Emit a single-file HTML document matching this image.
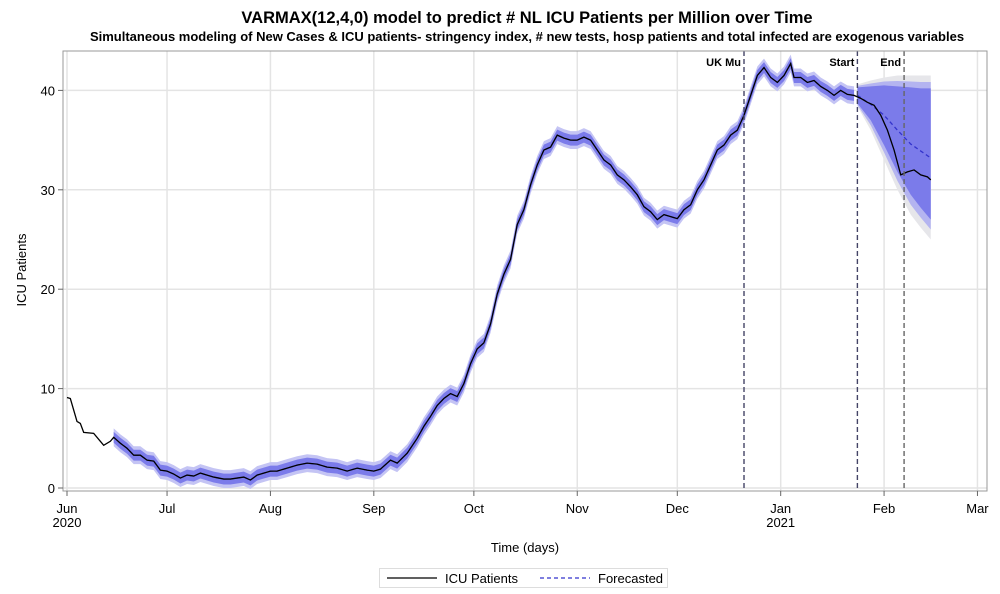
<!DOCTYPE html>
<html><head><meta charset="utf-8">
<style>
html,body{margin:0;padding:0;background:#fff;}
svg{display:block;font-family:"Liberation Sans",Arial,sans-serif;}
</style></head>
<body>
<svg id="chart" width="1000" height="594" viewBox="0 0 1000 594">
<text x="527" y="23" text-anchor="middle" font-size="16.5" font-weight="bold" fill="#000">VARMAX(12,4,0) model to predict # NL ICU Patients per Million over Time</text>
<text x="527" y="41" text-anchor="middle" font-size="13" font-weight="bold" fill="#000">Simultaneous modeling of New Cases &amp; ICU patients- stringency index, # new tests, hosp patients and total infected are exogenous variables</text>
<g id="grid"></g>
<g id="bands"></g>
<g id="lines"></g>
<g id="refs"></g>
<rect x="63" y="51" width="924" height="440" fill="none" stroke="#999" stroke-width="1"/>
<g id="axes"></g>
<text x="26" y="270" transform="rotate(-90 26 270)" text-anchor="middle" font-size="13" fill="#000">ICU Patients</text>
<text x="525" y="552" text-anchor="middle" font-size="13" fill="#000">Time (days)</text>
<g>
<rect x="379.5" y="568.5" width="288" height="19" fill="#fff" stroke="#bbb" stroke-dasharray="1,1"/>
<line x1="387" y1="578" x2="437" y2="578" stroke="#000" stroke-width="1.3"/>
<text x="445" y="583" font-size="13">ICU Patients</text>
<line x1="540" y1="578" x2="590" y2="578" stroke="#3333cc" stroke-width="1.3" stroke-dasharray="4,3"/>
<text x="598" y="583" font-size="13">Forecasted</text>
</g>
</svg>
<script>
// days since 2020-06-01
const obsDays=[0,1,3,4,5,8,10,11,13,14,
16,18,20,22,24,26,28,30,32,34,
36,38,40,42,44,47,49,51,53,55,
57,59,61,63,66,69,72,75,78,81,
84,87,90,92,94,97,99,102,105,107,
109,111,113,115,117,119,121,123,125,127,
129,131,133,135,137,139,141,143,145,147,
149,151,153,155,157,159,161,163,165,167,
169,171,173,175,177,179,181,183,185,187,
189,191,193,195,197,199,201,203,205,207,
209,211,213,215,217,218,220,222,224,226,
228,230,232,234,236,238,240,242,244,246,
248,250,252,254,256,258,259];
const obsVals=[9.1,9.0,6.7,6.5,5.6,5.5,4.7,4.3,4.7,5.1,
4.5,4.0,3.3,3.3,2.8,2.7,1.8,1.7,1.4,1.0,
1.3,1.2,1.5,1.3,1.1,0.9,0.9,1.0,1.1,0.8,
1.3,1.5,1.7,1.7,2.0,2.3,2.5,2.4,2.1,2.0,
1.7,2.0,1.8,1.7,1.9,2.8,2.5,3.5,5.0,6.2,
7.2,8.3,9.0,9.5,9.2,10.5,12.5,14.0,14.6,16.5,
19.5,21.5,23.0,26.5,28.0,30.5,32.5,34.0,34.3,35.5,
35.2,35.0,35.0,35.3,35.0,34.0,33.0,32.5,31.5,31.0,
30.3,29.5,28.3,27.8,27.0,27.5,27.3,27.1,28.0,28.5,
30.0,31.0,32.5,34.0,34.5,35.5,36.0,37.5,39.5,41.5,
42.3,41.3,40.8,41.5,42.7,41.3,41.3,40.8,41.0,40.4,
40.0,39.5,40.0,39.6,39.5,39.2,38.8,38.5,37.5,36.0,
34.0,31.5,31.8,32.0,31.5,31.3,31.0];
const fcStart=14, startDay=237;
const fcDays=[237,241,245,249,253,256,259];
const fcVals=[39.5,38.6,37.5,36.0,34.6,33.9,33.2];
const fcLo=[38.7,37.0,34.5,31.8,29.5,28.2,27.0];
const fcHi=[40.3,40.4,40.5,40.4,40.3,40.2,40.2];
const outLo=[38.4,36.0,33.0,30.0,27.5,26.2,25.0];
const outHi=[40.6,41.0,41.3,41.5,41.5,41.5,41.5];
const yTicks=[0,10,20,30,40];
const xTickDays=[0,30,61,92,122,153,183,214,245,273];
const xTickLabels=["Jun","Jul","Aug","Sep","Oct","Nov","Dec","Jan","Feb","Mar"];
const refDays=[203,237,251];
const refLabels=["UK Mu","Start","End"];

const NS="http://www.w3.org/2000/svg";
const X=d=>67+d*3.335;
const Y=v=>488-v*9.94;
function mk(tag,attrs,parent){const e=document.createElementNS(NS,tag);for(const k in attrs)e.setAttribute(k,attrs[k]);parent.appendChild(e);return e;}
const grid=document.getElementById('grid'),axes=document.getElementById('axes'),bands=document.getElementById('bands'),lines=document.getElementById('lines'),refs=document.getElementById('refs');

yTicks.forEach(v=>{
  const g=mk('line',{x1:63,x2:987,y1:Y(v),y2:Y(v),stroke:'#e4e4e4','stroke-width':1.5},grid);
  
  
  const t=mk('line',{x1:58,x2:63,y1:Y(v),y2:Y(v),stroke:'#666'},axes);
  
  
  const l=mk('text',{x:55,y:Y(v)+5,'text-anchor':'end','font-size':13},axes);
  l.textContent=v;
  
  
});
xTickDays.forEach((d,i)=>{
  const g=mk('line',{x1:X(d),x2:X(d),y1:51,y2:491,stroke:'#e4e4e4','stroke-width':1.5},grid);
  
  
  const t=mk('line',{x1:X(d),x2:X(d),y1:491,y2:496,stroke:'#666'},axes);
  
  
  const l=mk('text',{x:X(d),y:513,'text-anchor':'middle','font-size':13},axes);
  l.textContent=xTickLabels[i];
  
  
});
[[0,"2020"],[214,"2021"]].forEach(([d,s])=>{
  const l=mk('text',{x:X(d),y:527,'text-anchor':'middle','font-size':13},axes);
  l.textContent=s;
  
  
});

function bandPath(days,lo,hi){let p='M'+days.map((d,i)=>X(d)+','+Y(hi[i])).join('L');p+='L'+days.slice().reverse().map((d,i)=>X(d)+','+Y(lo[days.length-1-i])).join('L')+'Z';return p;}
const inIdx=obsDays.map((d,i)=>i).filter(i=>obsDays[i]>=fcStart&&obsDays[i]<=startDay);
const inD=inIdx.map(i=>obsDays[i]),inV=inIdx.map(i=>obsVals[i]);
const b1=mk('path',{d:bandPath(inD,inV.map(v=>v-0.9),inV.map(v=>v+0.9)),fill:'#c4c4f4'},bands);


const b2=mk('path',{d:bandPath(inD,inV.map(v=>v-0.55),inV.map(v=>v+0.55)),fill:'#7b7bea'},bands);


const o1=mk('path',{d:bandPath(fcDays,outLo,outHi),fill:'#e6e6ea'},bands);


const o2=mk('path',{d:bandPath(fcDays,fcLo.map((v,i)=>(v+outLo[i])/2),fcHi.map((v,i)=>(v+outHi[i])/2)),fill:'#b4b4f0'},bands);


const o3=mk('path',{d:bandPath(fcDays,fcLo,fcHi),fill:'#7b7bea'},bands);



const fl=mk('path',{d:'M'+inD.map((d,i)=>X(d)+','+Y(inV[i])).join('L'),fill:'none',stroke:'#3333cc','stroke-width':1.2,'stroke-dasharray':'4,3'},lines);


const fl2=mk('path',{d:'M'+fcDays.map((d,i)=>X(d)+','+Y(fcVals[i])).join('L'),fill:'none',stroke:'#3333cc','stroke-width':1.3,'stroke-dasharray':'4,3'},lines);


const ol=mk('path',{d:'M'+obsDays.map((d,i)=>X(d)+','+Y(obsVals[i])).join('L'),fill:'none',stroke:'#000','stroke-width':1.3},lines);



refDays.forEach((d,i)=>{
  const l=mk('line',{x1:X(d),x2:X(d),y1:51,y2:491,stroke:i==2?'#666':'#444466','stroke-width':1.4,'stroke-dasharray':'5,3'},refs);
  
  
  const t=mk('text',{x:X(d)-3,y:66,'text-anchor':'end','font-size':11,'font-weight':'bold'},refs);
  t.textContent=refLabels[i];
  
  
});
</script>
</body></html>
